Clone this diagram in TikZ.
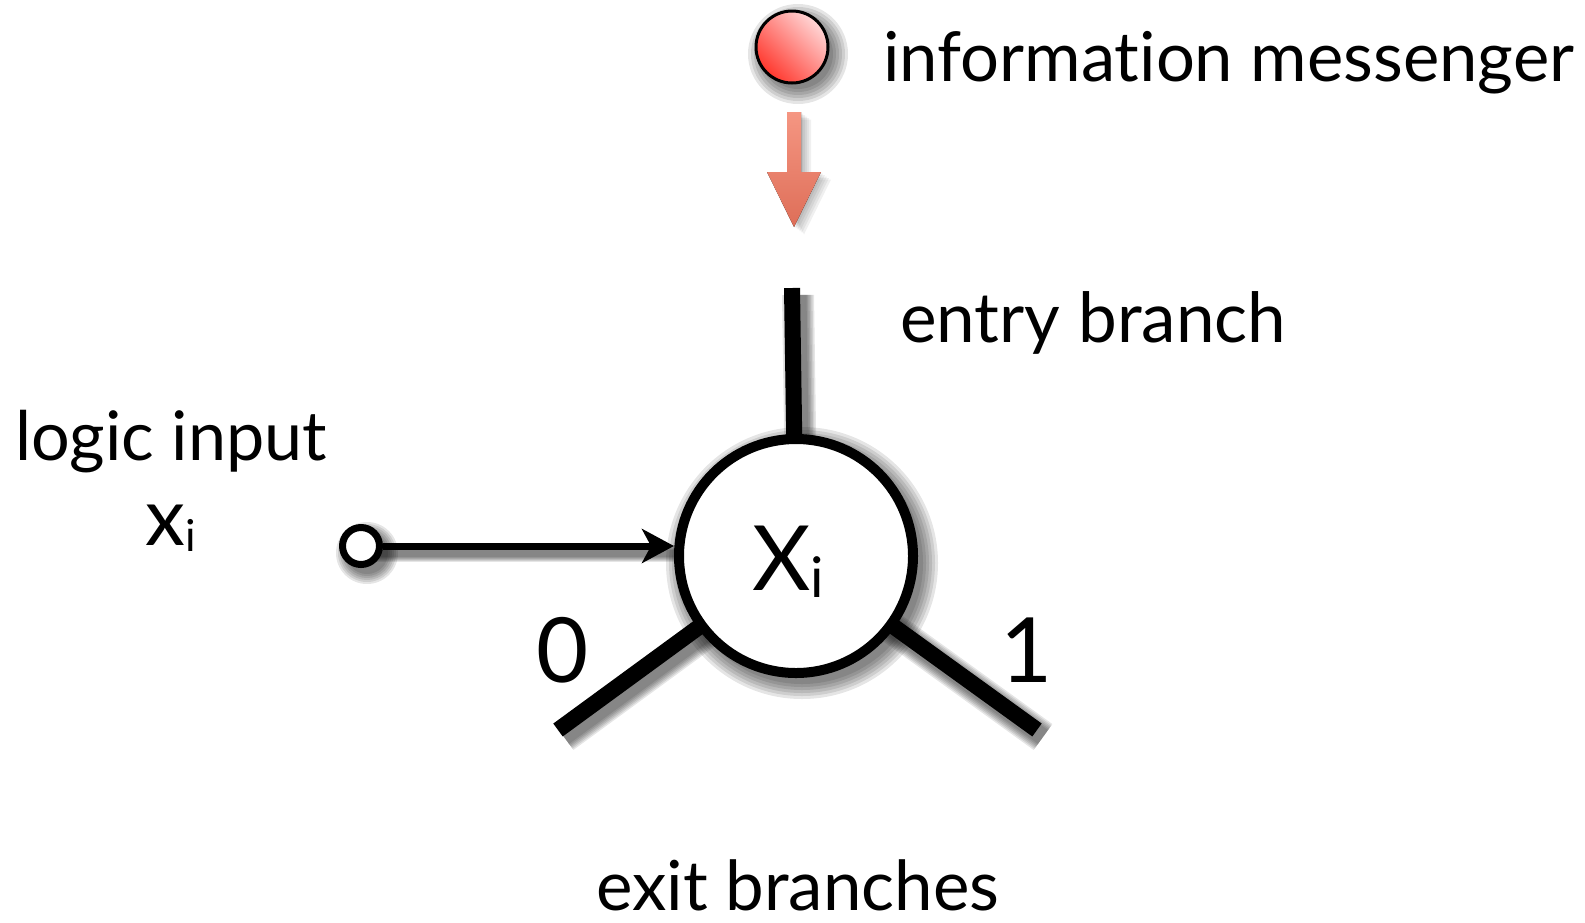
\documentclass[tikz,border=0pt]{standalone}
\usepackage{fontspec}
\usepackage{graphicx}
\setmainfont[Ligatures={NoCommon,NoContextual,NoRequired}]{Lato}
\usetikzlibrary{arrows.meta}
\definecolor{ballhi}{RGB}{255,215,215}
\definecolor{balllo}{RGB}{255,55,45}
\definecolor{arrtop}{RGB}{245,150,130}
\definecolor{arrbot}{RGB}{222,110,88}
\begin{document}
\begin{tikzpicture}[x=1pt,y=-1pt,
  shadowlayer/.style={transform canvas={shift={(6pt,-7pt)}}},
  branch/.style={line width=16pt,draw=black},
  lbl/.style={anchor=base west,inner sep=0pt,font=\fontsize{60}{70}\selectfont},
  big/.style={inner sep=0pt,font=\fontsize{90}{100}\selectfont},
]
\useasboundingbox (0,0) rectangle (1585,922);

\coordinate (c) at (796,556);
\coordinate (entrytop) at (792,288);
\coordinate (exit0) at (558,730);
\coordinate (exit1) at (1037,730);
\coordinate (inp) at (361,546);
\coordinate (ballc) at (792,47);

% soft shadows (stacked translucent layers)
\begin{scope}[shadowlayer]
  \foreach \k in {1,...,6}{
    \draw[line width=14pt+3pt*\k,draw opacity=0.1] (c) -- (entrytop);
    \draw[line width=14pt+3pt*\k,draw opacity=0.1] (c) -- (exit0);
    \draw[line width=14pt+3pt*\k,draw opacity=0.1] (c) -- (exit1);
    \draw[line width=5pt+2pt*\k,draw opacity=0.1] (inp) -- ([xshift=-40pt]c |- inp);
    \fill[black,opacity=0.1] (c) circle (118pt+3pt*\k);
    \fill[black,opacity=0.1] (inp) circle (19pt+2pt*\k);
    \fill[black,opacity=0.1] (ballc) circle (32pt+3pt*\k);
  }
\end{scope}
\foreach \k in {1,...,5}{
  \fill[black,opacity=0.06,shift={(2*\k,1.5*\k)}]
    (787,112) -- (801,112) -- (801,172) -- (821,172) -- (794,227) -- (767,172) -- (787,172) -- cycle;
}

% red messenger ball and arrow
\node[circle,minimum size=72pt,inner sep=0pt,draw=black,line width=3pt,
  left color=ballhi,right color=balllo,shading angle=-45] (ball) at (ballc) {};
\fill[top color=arrtop,bottom color=arrbot]
  (787,112) -- (801,112) -- (801,172) -- (821,172) -- (794,227) -- (767,172) -- (787,172) -- cycle;

% branches
\draw[branch] (c) -- (entrytop);
\draw[branch] (c) -- (exit0);
\draw[branch] (c) -- (exit1);

% main node
\node[circle,minimum size=234pt,inner sep=0pt,draw=black,line width=10pt,fill=white] (main) at (c) {};
\node[anchor=base west,inner sep=0pt,font=\fontsize{90}{100}\selectfont] (Xi) at (752,590)
  {X\raisebox{-7pt}{\fontsize{56}{60}\selectfont i}};

% logic input
\node[circle,minimum size=37pt,inner sep=0pt,draw=black,line width=7pt,fill=white] (input) at (inp) {};
\draw[line width=7pt,-{Stealth[length=32pt,width=34pt,inset=9pt]},shorten >=0pt]
  (input.east) -- (main.west |- input);

% labels
\node[lbl] (info) at (883,81) {\resizebox{691pt}{!}{information messenger}};
\node[lbl] (entry) at (900,342) {\resizebox{386pt}{!}{entry branch}};
\node[lbl] (logic) at (15,460) {\resizebox{312pt}{!}{logic input}};
\node[lbl] (exitl) at (596,910) {\resizebox{403pt}{!}{exit branches}};
\node[anchor=base west,inner sep=0pt,font=\fontsize{80}{90}\selectfont] (xi) at (145,545)
  {x\raisebox{-6pt}{\fontsize{44}{50}\selectfont i}};
\node[big,anchor=base] (zero) at (563,682) {0};
\node[big,anchor=base] (one) at (1027,682) {1};
\end{tikzpicture}
\end{document}
